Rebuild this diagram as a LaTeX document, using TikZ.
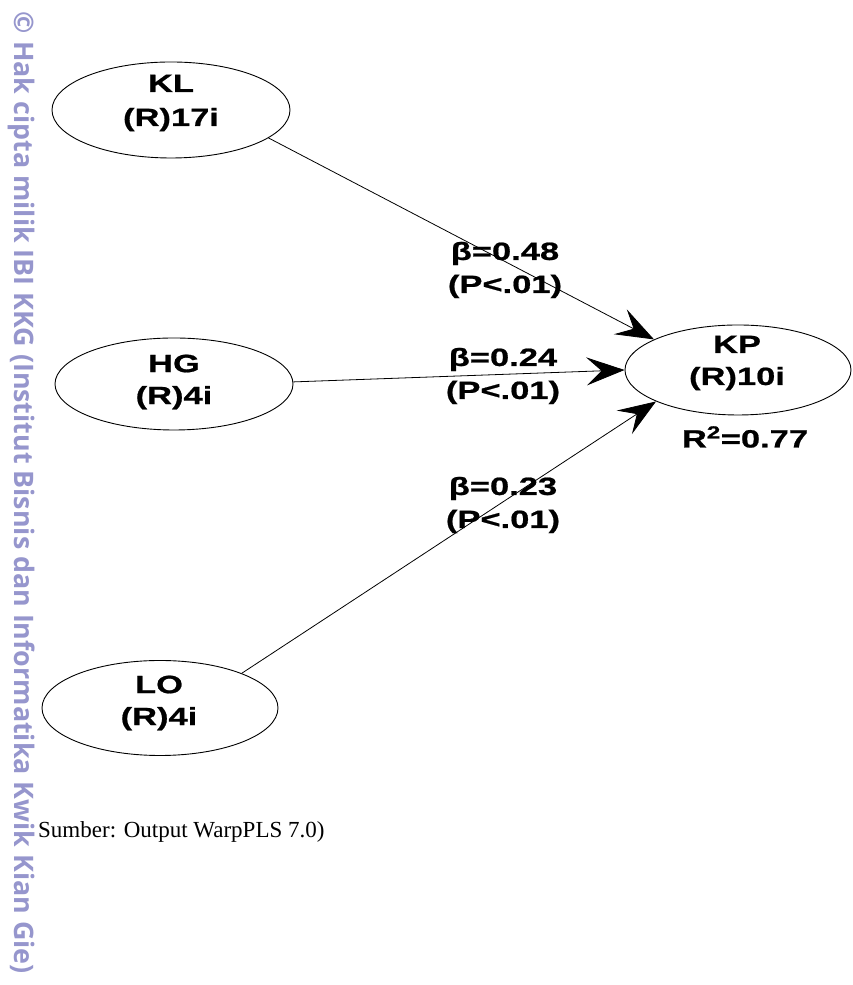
\documentclass[tikz,border=0pt]{standalone}
\usepackage{fontspec}
\setmainfont{Liberation Serif}
\newfontfamily\diagfont[FakeStretch=1.38,FakeBold=0.8]{Liberation Sans}
\newfontfamily\wmfont{Open Sans}
\usetikzlibrary{shapes.geometric,arrows.meta}
\definecolor{wmcol}{RGB}{150,150,205}
\begin{document}
\begin{tikzpicture}[x=1pt,y=1pt,
  lv/.style={ellipse,draw,line width=0.9pt,inner sep=0pt},
  lvtext/.style={align=center,inner sep=0pt,font=\diagfont\bfseries\fontsize{25}{32}\selectfont},
  lbl/.style={align=center,inner sep=0pt,font=\diagfont\bfseries\fontsize{25}{33}\selectfont},
  conn/.style={line width=0.8pt,-{Stealth[length=38pt,width=28pt,inset=15pt]}}]
\useasboundingbox (0,0) rectangle (852,985);
\fill[white] (0,0) rectangle (852,985);
% watermark
\node[rotate=-90,anchor=base,text=wmcol,inner sep=0pt,
  font=\wmfont\bfseries\fontsize{26}{26}\selectfont] (wm) at (14,492)
  {\resizebox{962pt}{!}{© Hak cipta milik IBI KKG (Institut Bisnis dan Informatika Kwik Kian Gie)}};
% latent variables
\node[lv,minimum width=238pt,minimum height=96pt] (KL) at (171,875) {};
\node[lv,minimum width=238pt,minimum height=92pt] (HG) at (174,601) {};
\node[lv,minimum width=236pt,minimum height=95pt] (LO) at (160,277) {};
\node[lv,minimum width=226pt,minimum height=90pt] (KP) at (738,615) {};
\node[lvtext,font=\diagfont\bfseries\fontsize{25}{34}\selectfont] (KLt) at (171,882) {KL\\(R)17i};
\node[lvtext] (HGt) at (174,603) {HG\\(R)4i};
\node[lvtext] (LOt) at (159,282) {LO\\(R)4i};
\node[lvtext] (KPt) at (737,622) {KP\\(R)10i};
\node[lbl] (R2) at (745,548) {R\textsuperscript{2}=0.77};
% paths
\draw[conn] (KL.-16) -- (KP.160);
\draw[conn] (HG.1) -- (KP.180.5);
\draw[conn] (LO.23) -- (KP.201.6);
% path labels
\node[lbl] (b1) at (505,715) {β=0.48\\(P<.01)};
\node[lbl] (b2) at (503,609) {β=0.24\\(P<.01)};
\node[lbl] (b3) at (503,480) {β=0.23\\(P<.01)};
% source
\node[anchor=base west,inner sep=0pt,font=\fontsize{23}{23}\selectfont] (src) at (38,147) {Sumber: Output WarpPLS 7.0)};
\end{tikzpicture}
\end{document}
